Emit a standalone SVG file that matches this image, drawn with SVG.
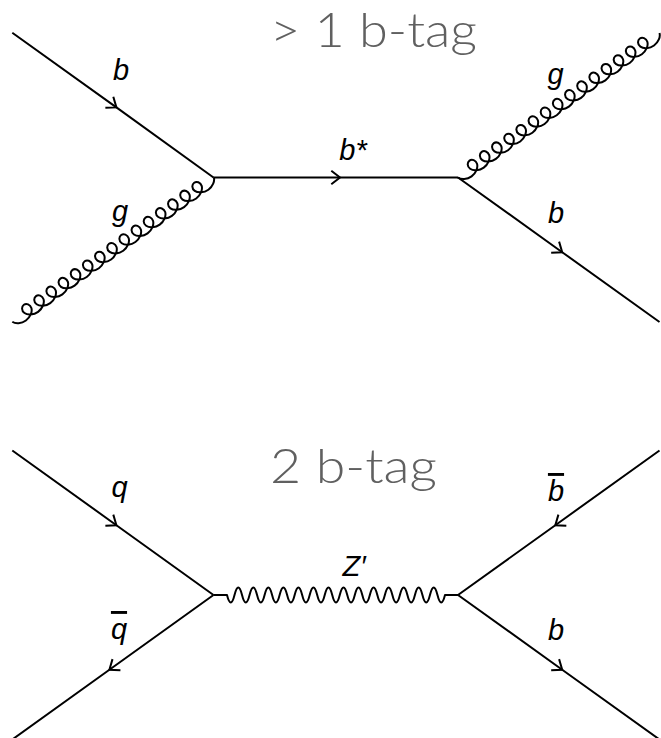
<svg xmlns="http://www.w3.org/2000/svg" width="661" height="738" viewBox="0 0 661 738">
<style>
.f{fill:none;stroke:#000;stroke-width:2;stroke-linejoin:round;}
.fa{marker-mid:url(#arr);}
.lbl{font-family:"Liberation Sans",Arial,sans-serif;font-style:italic;font-size:29px;fill:#000;text-anchor:middle;}
.ttl{font-family:Lato,"Liberation Sans",sans-serif;font-weight:300;font-size:47px;fill:#606060;}
.bar{text-decoration:overline;}
</style>
<defs>
<marker id="arr" markerUnits="userSpaceOnUse" markerWidth="24" markerHeight="24" viewBox="-12 -12 24 24" refX="0" refY="0" orient="auto" overflow="visible">
<path d="M-8.7,-6.8 L0,0 L-8.7,6.8" fill="none" stroke="#000" stroke-width="2"/>
</marker>
<path id="gluon" class="f" d="M0,0 c1.247,3.665 6.306,7 11.742,7
c5.436,0 10.495,-3.335 11.742,-7 c1.247,-3.665 -1.316,-7 -4.258,-7 c-2.942,0 -5.505,3.335 -4.258,7 c1.247,3.665 6.306,7 11.742,7
c5.436,0 10.495,-3.335 11.742,-7 c1.247,-3.665 -1.316,-7 -4.258,-7 c-2.942,0 -5.505,3.335 -4.258,7 c1.247,3.665 6.306,7 11.742,7
c5.436,0 10.495,-3.335 11.742,-7 c1.247,-3.665 -1.316,-7 -4.258,-7 c-2.942,0 -5.505,3.335 -4.258,7 c1.247,3.665 6.306,7 11.742,7
c5.436,0 10.495,-3.335 11.742,-7 c1.247,-3.665 -1.316,-7 -4.258,-7 c-2.942,0 -5.505,3.335 -4.258,7 c1.247,3.665 6.306,7 11.742,7
c5.436,0 10.495,-3.335 11.742,-7 c1.247,-3.665 -1.316,-7 -4.258,-7 c-2.942,0 -5.505,3.335 -4.258,7 c1.247,3.665 6.306,7 11.742,7
c5.436,0 10.495,-3.335 11.742,-7 c1.247,-3.665 -1.316,-7 -4.258,-7 c-2.942,0 -5.505,3.335 -4.258,7 c1.247,3.665 6.306,7 11.742,7
c5.436,0 10.495,-3.335 11.742,-7 c1.247,-3.665 -1.316,-7 -4.258,-7 c-2.942,0 -5.505,3.335 -4.258,7 c1.247,3.665 6.306,7 11.742,7
c5.436,0 10.495,-3.335 11.742,-7 c1.247,-3.665 -1.316,-7 -4.258,-7 c-2.942,0 -5.505,3.335 -4.258,7 c1.247,3.665 6.306,7 11.742,7
c5.436,0 10.495,-3.335 11.742,-7 c1.247,-3.665 -1.316,-7 -4.258,-7 c-2.942,0 -5.505,3.335 -4.258,7 c1.247,3.665 6.306,7 11.742,7
c5.436,0 10.495,-3.335 11.742,-7 c1.247,-3.665 -1.316,-7 -4.258,-7 c-2.942,0 -5.505,3.335 -4.258,7 c1.247,3.665 6.306,7 11.742,7
c5.436,0 10.495,-3.335 11.742,-7 c1.247,-3.665 -1.316,-7 -4.258,-7 c-2.942,0 -5.505,3.335 -4.258,7 c1.247,3.665 6.306,7 11.742,7
c5.436,0 10.495,-3.335 11.742,-7 c1.247,-3.665 -1.316,-7 -4.258,-7 c-2.942,0 -5.505,3.335 -4.258,7 c1.247,3.665 6.306,7 11.742,7
c5.436,0 10.495,-3.335 11.742,-7 c1.247,-3.665 -1.316,-7 -4.258,-7 c-2.942,0 -5.505,3.335 -4.258,7 c1.247,3.665 6.306,7 11.742,7
c5.436,0 10.495,-3.335 11.742,-7 c1.247,-3.665 -1.316,-7 -4.258,-7 c-2.942,0 -5.505,3.335 -4.258,7 c1.247,3.665 6.306,7 11.742,7
c5.436,0 10.495,-3.335 11.742,-7 c1.247,-3.665 -1.316,-7 -4.258,-7 c-2.942,0 -5.505,3.335 -4.258,7 c1.247,3.665 6.306,7 11.742,7
c5.436,0 10.495,-3.335 11.742,-7"/>
</defs>

<g id="connectors">
<!-- top diagram: b g -> b* -> g b -->
<path id="e-b-in" class="f fa" d="M12.3,32.7 L116.4,107.4 L213.5,177.5"/>
<use id="e-g-in" href="#gluon" transform="translate(12.3,321.7) rotate(-35.64)"/>
<path id="e-bstar" class="f fa" d="M213.5,177.5 L340,177.5 L458,177.5"/>
<use id="e-g-out" href="#gluon" transform="translate(659.5,33) rotate(-35.64) scale(-1,1)"/>
<path id="e-b-out" class="f fa" d="M458,177.5 L562.2,252.2 L659.5,322"/>
<!-- bottom diagram: q qbar -> Z' -> bbar b -->
<path id="e-q" class="f fa" d="M12.3,450.5 L116.4,525.2 L213.5,595"/>
<path id="e-qbar" class="f fa" d="M213.5,595 L109.4,669.7 L12.3,739.5"/>
<path id="e-zprime" class="f" d="M213.5,595 H227 q3.759,15 7.517,0 t7.517,0 t7.517,0 t7.517,0 t7.517,0 t7.517,0 t7.517,0 t7.517,0 t7.517,0 t7.517,0 t7.517,0 t7.517,0 t7.517,0 t7.517,0 t7.517,0 t7.517,0 t7.517,0 t7.517,0 t7.517,0 t7.517,0 t7.517,0 t7.517,0 t7.517,0 t7.517,0 t7.517,0 t7.517,0 t7.517,0 t7.517,0 t7.517,0 H458"/>
<path id="e-bbar" class="f fa" d="M659.5,450.5 L555.3,525.2 L458,595"/>
<path id="e-b2" class="f fa" d="M458,595 L562.2,669.7 L659.5,739.5"/>
</g>

<g id="title-top"><text class="ttl" x="270" y="47" textLength="207" lengthAdjust="spacingAndGlyphs">&gt; 1 b-tag</text></g>
<g id="title-bottom"><text class="ttl" x="270" y="483" textLength="167" lengthAdjust="spacingAndGlyphs">2 b-tag</text></g>

<g id="label-b-in"><text class="lbl" x="121" y="80">b</text></g>
<g id="label-g-in"><text class="lbl" x="120" y="221">g</text></g>
<g id="label-bstar"><text class="lbl" x="353" y="160">b*</text></g>
<g id="label-g-out"><text class="lbl" x="555.5" y="84">g</text></g>
<g id="label-b-out"><text class="lbl" x="556" y="223">b</text></g>

<g id="label-q"><text class="lbl" x="119.5" y="497">q</text></g>
<g id="label-qbar"><text class="lbl" x="119" y="639"><tspan class="bar">q</tspan></text></g>
<g id="label-zprime"><text class="lbl" x="354" y="576">Z′</text></g>
<g id="label-bbar"><text class="lbl" x="556" y="501"><tspan class="bar">b</tspan></text></g>
<g id="label-b2"><text class="lbl" x="556" y="640">b</text></g>
</svg>
